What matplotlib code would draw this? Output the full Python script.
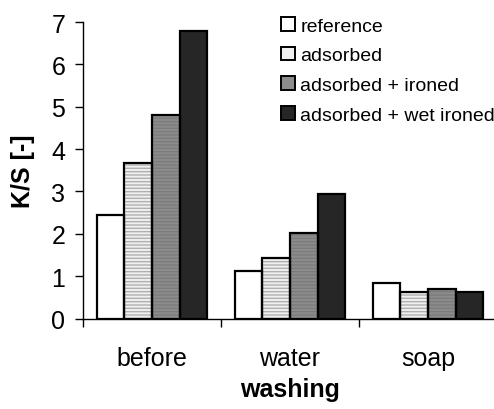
import numpy as np
import matplotlib
matplotlib.use('Agg')
import matplotlib.pyplot as plt
from matplotlib.patches import Patch

plt.rcParams['font.family'] = ['Liberation Sans', 'DejaVu Sans']

# ── Data ──────────────────────────────────────────────────────────────────────
categories = ['before', 'water', 'soap']
series = ['reference', 'adsorbed', 'adsorbed + ironed', 'adsorbed + wet ironed']
reference = [2.45, 1.13, 0.83]
adsorbed = [3.68, 1.43, 0.63]
ironed = [4.80, 2.03, 0.69]
wet_ironed = [6.78, 2.94, 0.62]
values = [reference, adsorbed, ironed, wet_ironed]

# ── Styles ────────────────────────────────────────────────────────────────────
faces = ['white', '#efefef', '#8c8c8c', '#262626']
hatches = [None, '-----', '-----', None]
hatch_cols = ['white', '#b0b0b0', '#7c7c7c', '#262626']

fig = plt.figure(figsize=(4.94, 4.10), dpi=100, facecolor='white')
ax = fig.add_axes([83 / 494, 0.2207, 414 / 494, 0.7232])

x = np.arange(len(categories))
w = 0.2
for i, vals in enumerate(values):
    pos = x - 0.3 + i * w
    ax.bar(pos, vals, w, color=faces[i], edgecolor=hatch_cols[i],
           hatch=hatches[i], lw=0, zorder=2)
    ax.bar(pos, vals, w, fill=False, edgecolor='black', lw=1.6, zorder=3)

ax.set_xlim(-0.5, 2.5)
ax.set_ylim(0, 7)
ax.set_yticks(range(0, 8))
ax.tick_params(axis='y', direction='out', length=5.8, width=1, pad=7,
               labelsize=18)

ax.set_xticks(x)
ax.set_xticklabels(categories)
ax.tick_params(axis='x', which='major', length=0, pad=20, labelsize=18)
ax.set_xticks([-0.5, 0.5, 1.5, 2.5], minor=True)
ax.tick_params(axis='x', which='minor', direction='out', length=5.8, width=1)

for s in ['top', 'right']:
    ax.spines[s].set_visible(False)
for s in ['left', 'bottom']:
    ax.spines[s].set_linewidth(1)
ax.spines['bottom'].set_bounds(-0.5, 2.6)
ax.spines['bottom'].set_clip_on(False)

ax.set_ylabel('K/S [-]', fontsize=18, fontweight='bold', labelpad=12)
ax.set_xlabel('washing', fontsize=18, fontweight='bold', labelpad=5)

handles = [Patch(facecolor=faces[i], edgecolor='black', lw=1.4)
           for i in range(4)]
fig.legend(handles, series, loc='upper left',
           bbox_to_anchor=(281 / 494, 1 - 18 / 410), frameon=False,
           fontsize=14, handlelength=0.7, handleheight=0.7,
           handletextpad=0.3, labelspacing=0.62, borderpad=0,
           borderaxespad=0)

fig.savefig('out.png', dpi=100, facecolor='white')
